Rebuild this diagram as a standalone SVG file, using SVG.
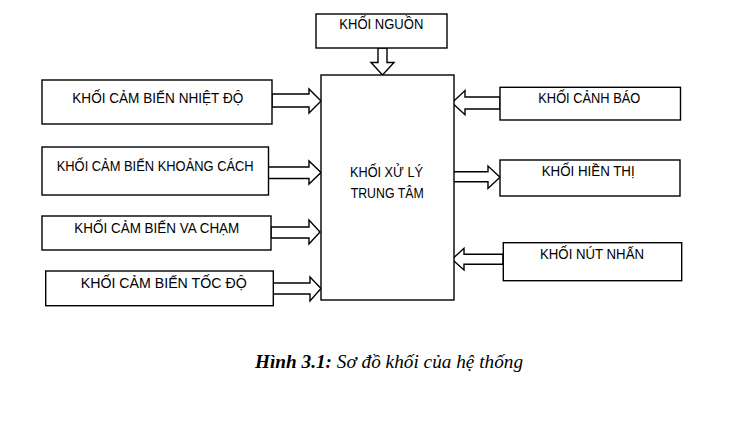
<svg xmlns="http://www.w3.org/2000/svg" width="754" height="425" viewBox="0 0 754 425">
<style>
.box{fill:#fff;stroke:#000;stroke-width:1.4}
.arr{fill:#fff;stroke:#000;stroke-width:1.4;stroke-linejoin:miter}
.t{font-family:"Liberation Sans",Arial,sans-serif;font-size:14.6px;fill:#000}
.cap{font-family:"Liberation Serif","Times New Roman",serif;font-size:19.2px;font-style:italic;fill:#000}
</style>
<rect width="754" height="425" fill="#fff"/>
<g id="connectors">
<polygon class="arr" points="378,48 387,48 387,62.5 394,62.5 382.5,75 371,62.5 378,62.5"/>
<polygon class="arr" points="272,94 309,94 309,89 321,101 309,113 309,107 272,107"/>
<polygon class="arr" points="268,167 309,167 309,161 321,172.5 309,184 309,178.5 268,178.5"/>
<polygon class="arr" points="271,227 309,227 309,220 320,232 309,244 309,238 271,238"/>
<polygon class="arr" points="271,283 310,283 310,277 321,288.5 310,301 310,294 271,294"/>
<polygon class="arr" points="500,97 465,97 465,90.5 452,102.7 465,114.7 465,109 500,109"/>
<polygon class="arr" points="452,171.7 488,171.7 488,166 500,177.3 488,188.5 488,181.7 452,181.7"/>
<polygon class="arr" points="503,254.3 464,254.3 464,248.3 452,259.3 464,270 464,264.3 503,264.3"/>
</g>
<g id="nguon">
<rect class="box" x="316" y="14" width="131" height="34"/>
<text class="t" x="339.3" y="29" textLength="84" lengthAdjust="spacingAndGlyphs">KHỐI NGUỒN</text>
</g>
<g id="xuly">
<rect class="box" x="321" y="75" width="133" height="225"/>
<text class="t" x="350" y="176.5" textLength="73" lengthAdjust="spacingAndGlyphs">KHỐI XỬ LÝ</text>
<text class="t" x="350.7" y="197.5" textLength="73" lengthAdjust="spacingAndGlyphs">TRUNG TÂM</text>
</g>
<g id="nhietdo">
<rect class="box" x="42" y="80" width="230" height="44"/>
<text class="t" x="72.3" y="103" textLength="171" lengthAdjust="spacingAndGlyphs">KHỐI CẢM BIẾN NHIỆT ĐỘ</text>
</g>
<g id="khoangcach">
<rect class="box" x="42" y="147" width="226.5" height="48"/>
<text class="t" x="56.7" y="170.5" textLength="197" lengthAdjust="spacingAndGlyphs">KHỐI CẢM BIẾN KHOẢNG CÁCH</text>
</g>
<g id="vacham">
<rect class="box" x="42" y="216" width="229" height="34"/>
<text class="t" x="74.3" y="232.5" textLength="165" lengthAdjust="spacingAndGlyphs">KHỐI CẢM BIẾN VA CHẠM</text>
</g>
<g id="tocdo">
<rect class="box" x="45.7" y="271" width="227.6" height="34.7"/>
<text class="t" x="80.7" y="288" textLength="166" lengthAdjust="spacingAndGlyphs">KHỐI CẢM BIẾN TỐC ĐỘ</text>
</g>
<g id="canhbao">
<rect class="box" x="500" y="87.3" width="180.5" height="32.7"/>
<text class="t" x="538.3" y="102.5" textLength="102" lengthAdjust="spacingAndGlyphs">KHỐI CẢNH BÁO</text>
</g>
<g id="hienthi">
<rect class="box" x="500" y="160" width="180" height="36"/>
<text class="t" x="541.7" y="176" textLength="93" lengthAdjust="spacingAndGlyphs">KHỐI HIỀN THỊ</text>
</g>
<g id="nutnhan">
<rect class="box" x="503.3" y="242.7" width="178.4" height="38"/>
<text class="t" x="540" y="259" textLength="104" lengthAdjust="spacingAndGlyphs">KHỐI NÚT NHẤN</text>
</g>
<text class="cap" x="255" y="367.5" textLength="268"><tspan font-weight="bold">Hình 3.1:</tspan> Sơ đồ khối của hệ thống</text>
</svg>
